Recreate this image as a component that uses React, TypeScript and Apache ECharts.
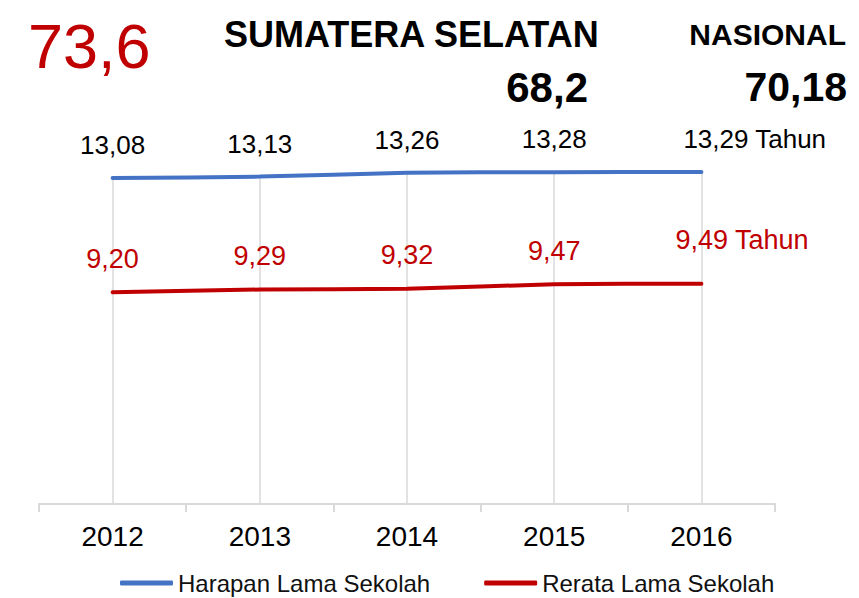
import React, { useEffect, useRef } from "react";
import * as echarts from "echarts";

const years = ["2012", "2013", "2014", "2015", "2016"];
const harapan = [13.08, 13.13, 13.26, 13.28, 13.29];
const rerata = [9.2, 9.29, 9.32, 9.47, 9.49];
const unitLabel = "Tahun";
const seriesNames = ["Harapan Lama Sekolah", "Rerata Lama Sekolah"];
const headValue = "73,6";
const regionName = "SUMATERA SELATAN";
const regionValue = "68,2";
const nationalName = "NASIONAL";
const nationalValue = "70,18";

const BLUE = "#4472C4";
const RED = "#C00000";
const GRID = "#d9d9d9";
const FONT = "Liberation Sans, Arial, sans-serif";
const Y_MIN = 2;
const Y_MAX = 14;

const fmt = (v: number) => v.toFixed(2).replace(".", ",");

export default function App() {
  const ref = useRef<HTMLDivElement>(null);
  useEffect(() => {
    if (!ref.current) return;
    const chart = echarts.init(ref.current, undefined, { renderer: "svg" });
    const last = years.length - 1;
    const blueData = harapan.map((v, i) =>
      i === last
        ? {
            value: v,
            label: {
              formatter: () => fmt(v) + " " + unitLabel,
              align: "left",
              offset: [-18, 0],
            },
          }
        : { value: v }
    );
    const redData = rerata.map((v, i) =>
      i === last
        ? {
            value: v,
            label: {
              formatter: () => fmt(v) + " " + unitLabel,
              align: "left",
              offset: [-26, -10],
            },
          }
        : { value: v }
    );
    chart.setOption({
      animation: false,
      grid: { left: 39, right: 84, top: 151, bottom: 94 },
      xAxis: {
        type: "category",
        data: years,
        boundaryGap: true,
        axisLine: { lineStyle: { color: GRID, width: 2 } },
        axisTick: { show: true, length: 8, lineStyle: { color: GRID, width: 2 } },
        splitLine: { show: false },
        axisLabel: { fontSize: 28, color: "#000", margin: 18, fontFamily: FONT },
      },
      yAxis: {
        type: "value",
        min: Y_MIN,
        max: Y_MAX,
        show: false,
        splitLine: { show: false },
      },
      legend: {
        left: 120,
        top: 571,
        padding: 0,
        icon: "roundRect",
        itemWidth: 53,
        itemHeight: 5,
        itemGap: 54,
        textStyle: { fontSize: 24, color: "#111", fontFamily: FONT },
        data: seriesNames,
      },
      graphic: [
        {
          type: "text",
          left: 28,
          top: 14,
          style: { text: headValue, fill: RED, font: `63px ${FONT}` },
        },
        {
          type: "text",
          x: 224,
          y: 34,
          style: {
            text: regionName,
            fill: "#000",
            font: `bold 36px ${FONT}`,
            align: "left",
            verticalAlign: "middle",
          },
        },
        {
          type: "text",
          x: 588,
          y: 87,
          style: {
            text: regionValue,
            fill: "#000",
            font: `bold 42px ${FONT}`,
            align: "right",
            verticalAlign: "middle",
          },
        },
        {
          type: "text",
          x: 846,
          y: 34,
          style: {
            text: nationalName,
            fill: "#000",
            font: `bold 30px ${FONT}`,
            align: "right",
            verticalAlign: "middle",
          },
        },
        {
          type: "text",
          x: 847,
          y: 87,
          style: {
            text: nationalValue,
            fill: "#000",
            font: `bold 41px ${FONT}`,
            align: "right",
            verticalAlign: "middle",
          },
        },
      ],
      series: [
        {
          name: seriesNames[0],
          type: "line",
          data: blueData,
          symbol: "circle",
          symbolSize: 0,
          showSymbol: true,
          smooth: 0.2,
          z: 3,
          itemStyle: { color: BLUE },
          lineStyle: { color: BLUE, width: 4, cap: "round" },
          label: {
            show: true,
            position: "top",
            distance: 20,
            fontSize: 26,
            color: "#000",
            fontFamily: FONT,
            formatter: (p: any) => fmt(p.value),
          },
          emphasis: { disabled: true },
          markLine: {
            silent: true,
            z: 1,
            symbol: ["none", "none"],
            label: { show: false },
            emphasis: { disabled: true },
            lineStyle: { color: GRID, width: 1.5, type: "solid" },
            data: years.map((y, i) => [
              { coord: [y, harapan[i]] },
              { coord: [y, Y_MIN] },
            ]),
          },
        },
        {
          name: seriesNames[1],
          type: "line",
          data: redData,
          symbol: "circle",
          symbolSize: 0,
          showSymbol: true,
          smooth: 0.2,
          z: 4,
          itemStyle: { color: RED },
          lineStyle: { color: RED, width: 4, cap: "round" },
          label: {
            show: true,
            position: "top",
            distance: 20,
            fontSize: 27,
            color: RED,
            fontFamily: FONT,
            formatter: (p: any) => fmt(p.value),
          },
          emphasis: { disabled: true },
        },
      ],
    });
    return () => chart.dispose();
  }, []);
  return (
    <div
      ref={ref}
      style={{ position: "fixed", left: 0, top: 0, width: 859, height: 598, background: "#fff" }}
    />
  );
}
